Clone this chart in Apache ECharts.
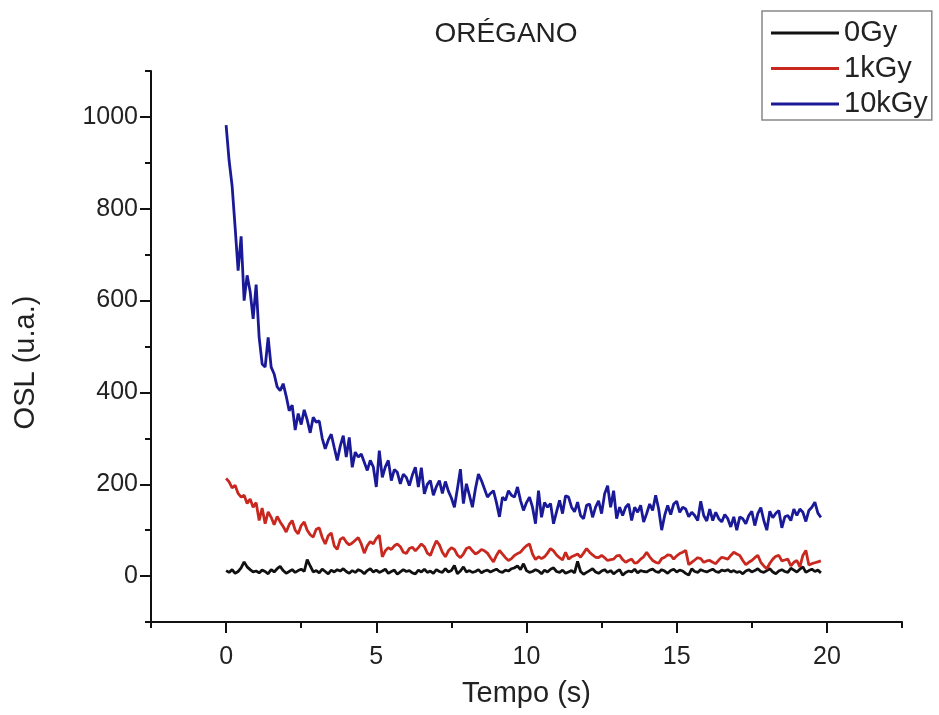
<!DOCTYPE html>
<html><head><meta charset="utf-8">
<script src="https://cdn.jsdelivr.net/npm/echarts@6/dist/echarts.min.js"></script>
<style>html,body{margin:0;padding:0;background:#fff}#c{width:939px;height:715px}</style>
</head><body><div id="c"></div>
<script>
const chartTitle = 'ORÉGANO';
const seriesNames = ['0Gy', '1kGy', '10kGy'];
const tStart = 0, tStep = 0.1;
const osl0Gy = [
 12, 8, 14, 6, 10, 18, 31, 20, 14, 9,
 11, 7, 13, 10, 5, 14, 9, 16, 21, 12,
 6, 10, 14, 8, 12, 15, 10, 36, 22, 9,
 12, 7, 15, 10, 5, 13, 9, 14, 11, 16,
 10, 6, 12, 8, 14, 11, 5, 12, 16, 9,
 13, 8, 11, 15, 6, 10, 13, 4, 9, 14,
 10, 12, 7, 5, 13, 9, 15, 8, 11, 6,
 14, 10, 8, 16, 9, 12, 23, 5, 11, 20,
 9, 12, 8, 10, 14, 7, 11, 13, 9, 12,
 15, 10, 8, 13, 11, 16, 18, 22, 14, 27,
 12, 8, 10, 14, 11, 5, 13, 9, 15, 18,
 10, 8, 13, 6, 9, 12, 7, 32, 10, 4,
 8, 12, 16, 9, 6, 11, 14, 8, 12, 5,
 10, 14, 2, 8, 11, 9, 15, 7, 12, 10,
 9, 13, 15, 10, 8, 14, 11, 6, 12, 15,
 9, 13, 11, 6, 2, 16, 10, 8, 14, 11,
 9, 12, 15, 10, 8, 13, 11, 14, 9, 12,
 8, 10, 5, 11, 14, 9, 12, 16, 10, 8,
 12, 16, 9, 5, 11, 14, 10, 8, 17, 13,
 9, 15, 20, 8, 12, 15, 10, 13, 7
];
const osl1kGy = [
 213, 205, 192, 198, 180, 172, 176, 158, 168, 150,
 160, 121, 148, 114, 140, 128, 112, 130, 118, 108,
 96, 112, 121, 100, 92, 110, 118, 100, 90, 85,
 102, 105, 84, 70, 88, 94, 66, 58, 80, 84,
 74, 68, 72, 78, 84, 70, 50, 66, 75, 70,
 82, 89, 42, 55, 62, 58, 66, 70, 64, 52,
 49, 60, 63, 55, 62, 70, 64, 50, 45, 62,
 77, 68, 52, 42, 55, 62, 58, 46, 40, 48,
 60, 63, 55, 48, 52, 58, 55, 50, 40, 31,
 45, 56, 48, 40, 34, 38, 45, 49, 52, 60,
 66, 70, 48, 36, 42, 38, 42, 50, 60, 55,
 46, 40, 35, 52, 37, 42, 45, 48, 41, 50,
 60, 52, 46, 41, 40, 45, 40, 34, 36, 37,
 44, 45, 36, 30, 34, 37, 28, 30, 37, 42,
 52, 42, 34, 30, 28, 38, 41, 46, 45, 37,
 44, 49, 52, 56, 25, 30, 35, 40, 38, 30,
 33, 34, 30, 27, 35, 41, 39, 37, 45, 52,
 48, 45, 34, 25, 30, 34, 40, 45, 30, 22,
 16, 28, 37, 43, 45, 33, 35, 37, 22, 30,
 34, 20, 45, 56, 24, 27, 29, 31, 33
];
const osl10kGy = [
 982, 905, 850, 760, 665, 740, 600, 655, 620, 560,
 635, 520, 462, 455, 520, 455, 440, 412, 404, 419,
 392, 360, 372, 318, 354, 330, 362, 340, 312, 346,
 335, 338, 300, 277, 296, 309, 280, 252, 283, 306,
 259, 302, 237, 270, 259, 266, 248, 230, 252, 238,
 194, 273, 215, 238, 252, 208, 232, 226, 201, 222,
 215, 197, 220, 237, 194, 236, 179, 200, 208, 176,
 195, 208, 180, 206, 185, 170, 150, 190, 233, 158,
 201, 176, 150, 190, 222, 208, 190, 172, 180, 186,
 160, 129, 172, 165, 186, 176, 172, 194, 165, 143,
 160, 172, 150, 114, 186, 128, 160, 150, 158, 114,
 140, 165, 136, 175, 172, 150, 140, 161, 132, 125,
 154, 157, 128, 150, 164, 136, 179, 197, 150, 186,
 125, 150, 132, 150, 157, 121, 150, 139, 154, 118,
 136, 157, 143, 176, 146, 100, 132, 154, 134, 157,
 163, 139, 150, 146, 129, 139, 132, 121, 163, 132,
 120, 146, 121, 139, 125, 118, 134, 125, 107, 129,
 100, 129, 125, 114, 132, 141, 110, 136, 149, 121,
 100, 141, 127, 137, 143, 105, 129, 132, 121, 146,
 132, 146, 139, 119, 143, 150, 161, 137, 128
];
const xMajorTicks = [0, 5, 10, 15, 20];
const yMajorTicks = [0, 200, 400, 600, 800, 1000];

const FONT = "'Liberation Sans', Arial, sans-serif";
const toPairs = arr => arr.map((v, i) => [+(tStart + i * tStep).toFixed(2), v]);
const colors = ['#111111', '#c9281f', '#1a1a98'];
const datasets = [osl0Gy, osl1kGy, osl10kGy];

const chart = echarts.init(document.getElementById('c'), null, {renderer: 'canvas'});
const axisLineStyle = {color: '#111', width: 2};
const tickStyle = {color: '#111', width: 2};
chart.setOption({
  animation: false,
  backgroundColor: '#fff',
  title: {
    text: chartTitle, left: 501, top: 15, textAlign: 'center',
    textStyle: {fontFamily: FONT, fontSize: 28, fontWeight: 'normal', color: '#222'}
  },
  legend: {
    orient: 'vertical', left: 762, top: 11,
    data: seriesNames,
    icon: 'rect', itemWidth: 68, itemHeight: 3, itemGap: 5.5,
    padding: [7, 4, 1, 9],
    borderColor: '#888', borderWidth: 1.5,
    textStyle: {fontFamily: FONT, fontSize: 29, color: '#222', lineHeight: 30},
    itemTextGap: 5
  },
  grid: {left: 151, right: 37, top: 71, bottom: 93, containLabel: false, outerBoundsMode: 'none'},
  xAxis: [{
    type: 'value', min: -2.5, max: 22.5, interval: 2.5, position: 'bottom',
    name: 'Tempo (s)', nameLocation: 'middle', nameGap: 57, nameMoveOverlap: false,
    nameTextStyle: {fontFamily: FONT, fontSize: 29, color: '#222'},
    axisLine: {show: true, onZero: false, lineStyle: axisLineStyle},
    axisTick: {show: true, length: 6, lineStyle: tickStyle},
    axisLabel: {margin: 23, fontFamily: FONT, fontSize: 25, color: '#222', showMinLabel: true, showMaxLabel: true,
      formatter: v => (xMajorTicks.indexOf(v) >= 0 ? String(v) : '')},
    splitLine: {show: false}
  }, {
    type: 'value', min: -2.5, max: 22.5, position: 'bottom',
    axisLine: {show: false, onZero: false},
    axisTick: {show: true, customValues: xMajorTicks, length: 11, lineStyle: tickStyle},
    axisLabel: {show: false}, splitLine: {show: false}
  }],
  yAxis: [{
    type: 'value', min: -100, max: 1100, interval: 100, position: 'left',
    name: 'OSL (u.a.)', nameLocation: 'middle', nameGap: 111, nameMoveOverlap: false,
    nameTextStyle: {fontFamily: FONT, fontSize: 29, color: '#222', padding: [0, 32, 0, 0]},
    axisLine: {show: true, onZero: false, lineStyle: axisLineStyle},
    axisTick: {show: true, length: 6, lineStyle: tickStyle},
    axisLabel: {margin: 13, fontFamily: FONT, fontSize: 25, color: '#222',
      formatter: v => (yMajorTicks.indexOf(v) >= 0 ? String(v) : '')},
    splitLine: {show: false}
  }, {
    type: 'value', min: -100, max: 1100, position: 'left',
    axisLine: {show: false, onZero: false},
    axisTick: {show: true, customValues: yMajorTicks, length: 11, lineStyle: tickStyle},
    axisLabel: {show: false}, splitLine: {show: false}
  }],
  series: datasets.map((d, i) => ({
    name: seriesNames[i], type: 'line', xAxisIndex: 0, yAxisIndex: 0,
    data: toPairs(d), showSymbol: false, symbol: 'none',
    lineStyle: {color: colors[i], width: 2.8}, itemStyle: {color: colors[i]},
    z: 2 + i
  }))
});
</script>
</body></html>
